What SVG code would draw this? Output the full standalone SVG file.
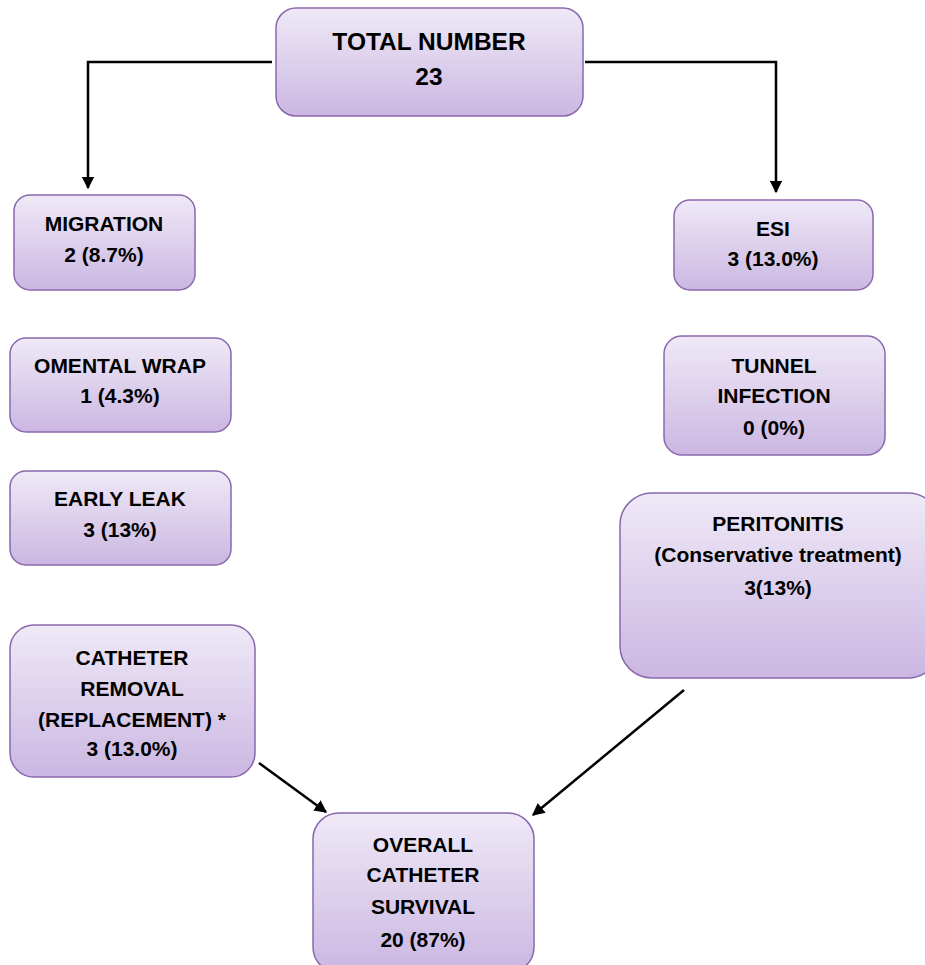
<svg xmlns="http://www.w3.org/2000/svg" width="925" height="965" viewBox="0 0 925 965">
<defs>
<linearGradient id="g" x1="0" y1="0" x2="0" y2="1">
<stop offset="0" stop-color="#efe9f7"/>
<stop offset="1" stop-color="#cbb7e2"/>
</linearGradient>
<marker id="ah" viewBox="0 0 10 10" refX="9" refY="5" markerWidth="5" markerHeight="5" orient="auto" markerUnits="strokeWidth">
<path d="M0,0 L10,5 L0,10 z" fill="#000"/>
</marker>
<style>
.box{fill:url(#g);stroke:#8a68ad;stroke-width:1.5}
.t{font-family:"Liberation Sans",Arial,sans-serif;font-weight:bold;font-size:21px;fill:#000;text-anchor:middle}
.big{font-size:24.5px}
.c{fill:none;stroke:#000;stroke-width:2.5}
</style>
</defs>
<rect width="925" height="965" fill="#fff"/>
<g id="connectors">
<polyline class="c" points="272,62 88,62 88,188" marker-end="url(#ah)"/>
<polyline class="c" points="585,62 776,62 776,192" marker-end="url(#ah)"/>
<line class="c" x1="259" y1="763" x2="326" y2="812" marker-end="url(#ah)"/>
<line class="c" x1="684" y1="690" x2="533" y2="815" marker-end="url(#ah)"/>
</g>
<g id="total">
<rect class="box" x="276" y="8" width="307" height="108" rx="20"/>
<text class="t big" x="429" y="50">TOTAL NUMBER</text>
<text class="t big" x="429" y="85">23</text>
</g>
<g id="migration">
<rect class="box" x="14" y="195" width="181" height="95" rx="16"/>
<text class="t" x="104" y="231">MIGRATION</text>
<text class="t" x="104" y="262">2 (8.7%)</text>
</g>
<g id="omental">
<rect class="box" x="10" y="338" width="221" height="94" rx="16"/>
<text class="t" x="120" y="373">OMENTAL WRAP</text>
<text class="t" x="120" y="403">1 (4.3%)</text>
</g>
<g id="leak">
<rect class="box" x="10" y="471" width="221" height="94" rx="16"/>
<text class="t" x="120" y="506">EARLY LEAK</text>
<text class="t" x="120" y="537">3 (13%)</text>
</g>
<g id="removal">
<rect class="box" x="10" y="625" width="245" height="152" rx="24"/>
<text class="t" x="132" y="665">CATHETER</text>
<text class="t" x="132" y="696">REMOVAL</text>
<text class="t" x="132" y="727">(REPLACEMENT) *</text>
<text class="t" x="132" y="756">3 (13.0%)</text>
</g>
<g id="esi">
<rect class="box" x="674" y="200" width="199" height="90" rx="16"/>
<text class="t" x="773" y="236">ESI</text>
<text class="t" x="773" y="266">3 (13.0%)</text>
</g>
<g id="tunnel">
<rect class="box" x="664" y="336" width="221" height="119" rx="18"/>
<text class="t" x="774" y="373">TUNNEL</text>
<text class="t" x="774" y="403">INFECTION</text>
<text class="t" x="774" y="435">0 (0%)</text>
</g>
<g id="peritonitis">
<rect class="box" x="620" y="493" width="320" height="185" rx="32"/>
<text class="t" x="778" y="531">PERITONITIS</text>
<text class="t" x="778" y="562">(Conservative treatment)</text>
<text class="t" x="778" y="595">3(13%)</text>
</g>
<g id="overall">
<rect class="box" x="313" y="813" width="221" height="160" rx="26"/>
<text class="t" x="423" y="852">OVERALL</text>
<text class="t" x="423" y="882">CATHETER</text>
<text class="t" x="423" y="914">SURVIVAL</text>
<text class="t" x="423" y="947">20 (87%)</text>
</g>
</svg>
